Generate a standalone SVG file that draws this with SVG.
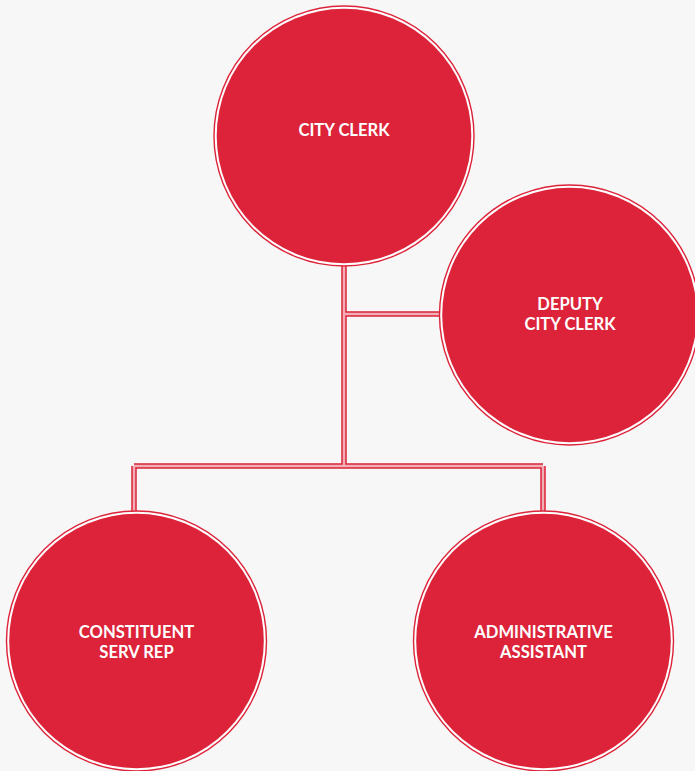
<svg xmlns="http://www.w3.org/2000/svg" width="695" height="771" viewBox="0 0 695 771">
<style>
.ring{fill:#ffffff;stroke:#dc2339;stroke-width:1.4}
.disc{fill:#dc2339}
.lbl{font-family:Lato,"Open Sans","Liberation Sans",sans-serif;font-weight:700;font-size:16.6px;fill:#ffffff;text-anchor:middle}
.c-out{fill:none;stroke:#dc2339;stroke-width:5.5}
.c-in{fill:none;stroke:#f2aeb6;stroke-width:2.5}
</style>
<rect width="695" height="771" fill="#f7f7f7"/>
<g id="connectors">
<path class="c-out" d="M344 262 V466 M344 314 H442 M134 466 H543 M134 466 V513 M543 466 V513"/>
<path class="c-in" d="M344 262 V466 M344 314 H442 M134 466 H543 M134 466 V513 M543 466 V513"/>
</g>
<g id="city-clerk">
<circle class="ring" cx="344" cy="136" r="130"/>
<circle class="disc" cx="344" cy="136" r="127.3"/>
<text class="lbl" x="344" y="135.5">CITY CLERK</text>
</g>
<g id="deputy-city-clerk">
<circle class="ring" cx="569.5" cy="315" r="130"/>
<circle class="disc" cx="569.5" cy="315" r="127.3"/>
<text class="lbl" x="570" y="309.5">DEPUTY</text>
<text class="lbl" x="570" y="330">CITY CLERK</text>
</g>
<g id="constituent-serv-rep">
<circle class="ring" cx="136.5" cy="641" r="130"/>
<circle class="disc" cx="136.5" cy="641" r="127.3"/>
<text class="lbl" x="136.5" y="638">CONSTITUENT</text>
<text class="lbl" x="136.5" y="658">SERV REP</text>
</g>
<g id="administrative-assistant">
<circle class="ring" cx="543.5" cy="641" r="130"/>
<circle class="disc" cx="543.5" cy="641" r="127.3"/>
<text class="lbl" x="543.5" y="638">ADMINISTRATIVE</text>
<text class="lbl" x="543.5" y="658">ASSISTANT</text>
</g>
</svg>
